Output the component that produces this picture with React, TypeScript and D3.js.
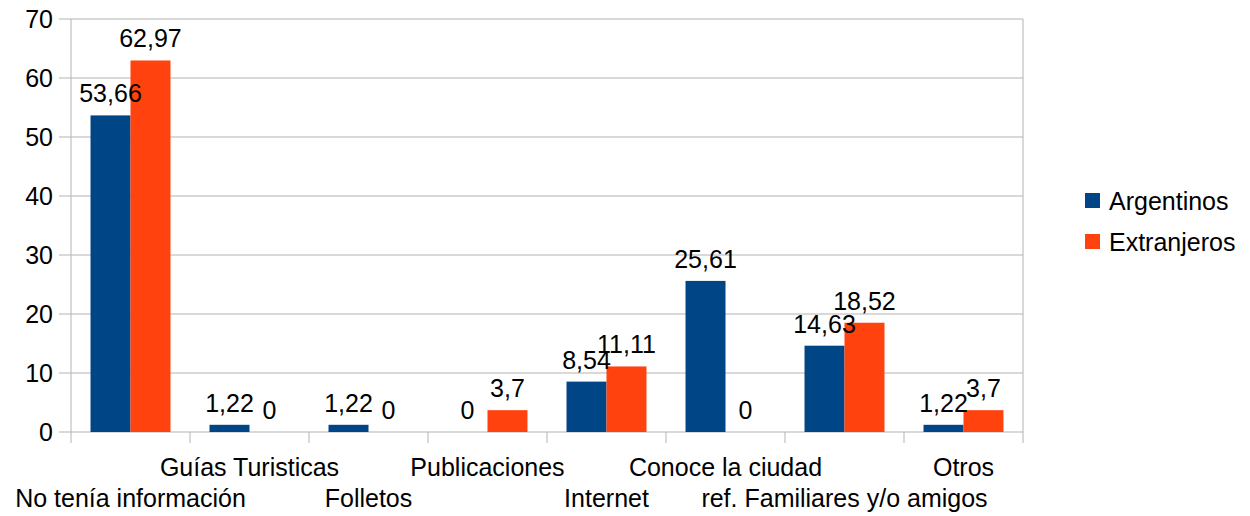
import React from "react";
import * as d3 from "d3";

const categories = [
  "No tenía información",
  "Guías Turisticas",
  "Folletos",
  "Publicaciones",
  "Internet",
  "Conoce la ciudad",
  "ref. Familiares y/o amigos",
  "Otros",
];
const argentinos = [53.66, 1.22, 1.22, 0, 8.54, 25.61, 14.63, 1.22];
const extranjeros = [62.97, 0, 0, 3.7, 11.11, 0, 18.52, 3.7];
const seriesNames = ["Argentinos", "Extranjeros"];
const colors = ["#004586", "#ff420e"];
const yTicks = [0, 10, 20, 30, 40, 50, 60, 70];

const W = 1250;
const H = 516;
const left = 71;
const right = 1023;
const top = 19;
const bottom = 432;
const FONT = "'Liberation Sans', Arial, sans-serif";
const FS = 25;

const fmt = (v: number) => String(v).replace(".", ",");

export default function App() {
  const x0 = d3.scaleBand<string>().domain(categories).range([left, right]).padding(0);
  const bw = x0.bandwidth();
  const x1 = d3
    .scaleBand<string>()
    .domain(seriesNames)
    .range([bw * 0.164, bw * 0.836])
    .padding(0);
  const y = d3.scaleLinear().domain([0, 70]).range([bottom, top]);
  const data = [argentinos, extranjeros];

  return (
    <svg width={W} height={H} style={{ position: "absolute", left: 0, top: 0 }} fontFamily={FONT}>
      <rect width={W} height={H} fill="#fff" />
      {yTicks.map((t) => (
        <g key={t}>
          <line x1={left} x2={right} y1={y(t)} y2={y(t)} stroke="#b3b3b3" strokeWidth={1} />
          <line x1={59} x2={left} y1={y(t)} y2={y(t)} stroke="#b3b3b3" strokeWidth={1} />
          <text x={53} y={y(t)} dy="0.36em" textAnchor="end" fontSize={FS} fill="#000">
            {t}
          </text>
        </g>
      ))}
      <line x1={left} x2={left} y1={top} y2={bottom} stroke="#b3b3b3" />
      <line x1={right} x2={right} y1={top} y2={bottom} stroke="#b3b3b3" />
      {categories.map((c, i) => (
        <line key={"t" + i} x1={x0(c)!} x2={x0(c)!} y1={bottom} y2={bottom + 11} stroke="#b3b3b3" />
      ))}
      <line x1={right} x2={right} y1={bottom} y2={bottom + 11} stroke="#b3b3b3" />
      {categories.map((c, i) =>
        data.map((vals, s) => {
          const v = vals[i];
          const bx = x0(c)! + x1(seriesNames[s])!;
          return (
            <g key={c + s}>
              <rect x={bx} y={y(v)} width={x1.bandwidth()} height={bottom - y(v)} fill={colors[s]} />
            </g>
          );
        })
      )}
      {categories.map((c, i) =>
        data.map((vals, s) => {
          const v = vals[i];
          const bx = x0(c)! + x1(seriesNames[s])! + x1.bandwidth() / 2;
          return (
            <text key={"l" + c + s} x={bx} y={y(v) - 13} textAnchor="middle" fontSize={FS} fill="#000">
              {fmt(v)}
            </text>
          );
        })
      )}
      {categories.map((c, i) => (
        <text
          key={"c" + i}
          x={x0(c)! + bw / 2}
          y={i % 2 === 0 ? 507 : 476}
          textAnchor="middle"
          fontSize={FS}
          fill="#000"
        >
          {c}
        </text>
      ))}
      {seriesNames.map((n, s) => (
        <g key={n}>
          <rect x={1085} y={193 + s * 41} width={15} height={15} fill={colors[s]} />
          <text x={1109} y={200.5 + s * 41} dy="0.36em" fontSize={FS} fill="#000">
            {n}
          </text>
        </g>
      ))}
    </svg>
  );
}
